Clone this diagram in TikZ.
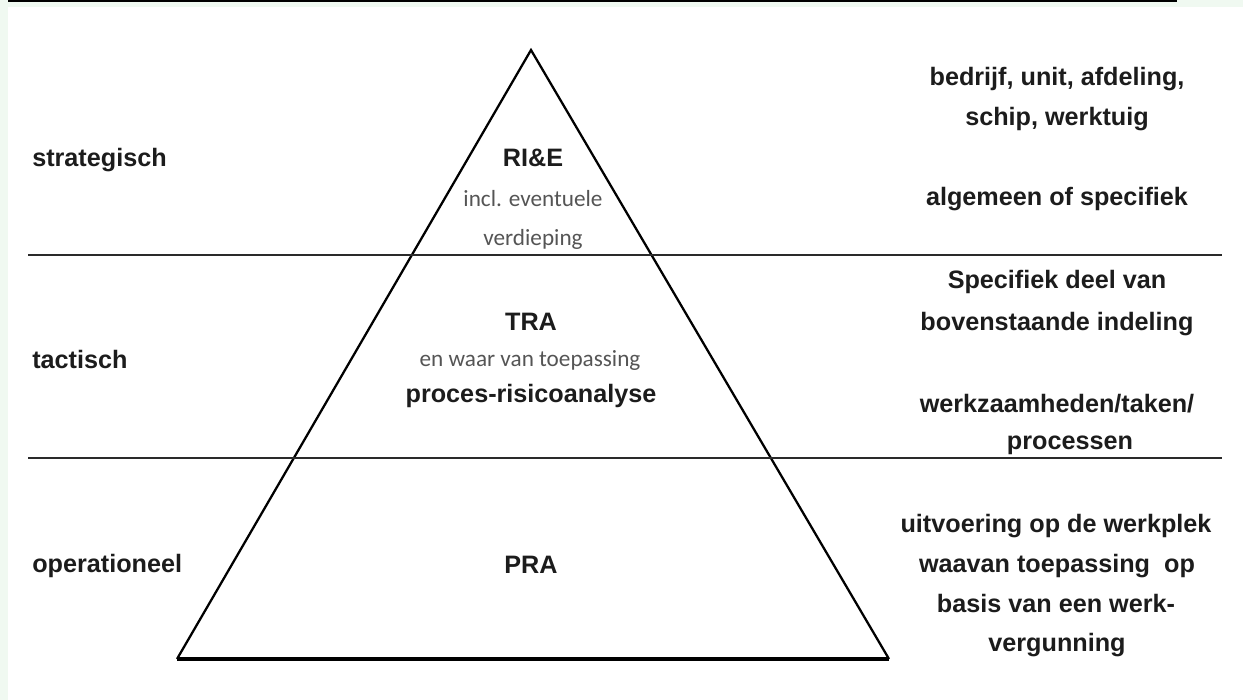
\documentclass[tikz,border=0pt]{standalone}
\usepackage{fontspec}
\setmainfont{Liberation Sans}
\newfontfamily\calfont{Carlito}
\definecolor{bggreen}{HTML}{F0F9F1}
\definecolor{ink}{HTML}{1C1C1C}
\definecolor{subink}{HTML}{555555}
\definecolor{lineink}{HTML}{2A2A2A}
\begin{document}
\begin{tikzpicture}[x=0.75pt,y=-0.75pt,
  lbl/.style={font=\bfseries\fontsize{18.9}{22}\selectfont, text=ink, inner sep=0pt, anchor=base},
  sub/.style={font=\calfont\fontsize{17.4}{20}\selectfont, text=subink, inner sep=0pt, anchor=base},
  tri/.style={draw=black, line width=1.7pt, line join=miter},
  sepline/.style={draw=lineink, line width=2.1pt},
  baseline/.style={draw=black, line width=3pt}]
\useasboundingbox (0,0) rectangle (1243,700);
% background
\fill[bggreen] (0,0) rectangle (1243,700);
\fill[white] (8,7) rectangle (1243,700);
\draw[black, line width=1.6pt] (8,1) -- (1177,1);
% triangle
\coordinate (apex) at (531,50);
\coordinate (bl) at (177,659);
\coordinate (br) at (889,659);
\draw[tri] (bl) -- (apex) -- (br);
\draw[baseline] (bl) -- (br);
% separators
\coordinate (s1l) at (28,255);
\coordinate (s1r) at (1222,255);
\coordinate (s2l) at (28,458);
\coordinate (s2r) at (1222,458);
\draw[sepline] (s1l) -- (s1r);
\draw[sepline] (s2l) -- (s2r);
% left labels
\node[lbl, anchor=base west] (strat) at (32,166) {strategisch};
\node[lbl, anchor=base west] (tact) at (32,368) {tactisch};
\node[lbl, anchor=base west] (oper) at (32,572) {operationeel};
% centre labels
\node[lbl] (rie) at (533,166) {RI\&E};
\node[sub] (incl) at (533,206) {incl. eventuele};
\node[sub] (verd) at (533,245) {verdieping};
\node[lbl] (tra) at (531,330) {TRA};
\node[sub] (enwaar) at (530,366) {en waar van toepassing};
\node[lbl] (proc) at (531,402) {proces-risicoanalyse};
\node[lbl] (pra) at (531,573) {PRA};
% right labels
\node[lbl] (r1) at (1057,85) {bedrijf, unit, afdeling,};
\node[lbl] (r2) at (1057,125) {schip, werktuig};
\node[lbl] (r3) at (1057,205) {algemeen of specifiek};
\node[lbl] (r4) at (1057,288) {Specifiek deel van};
\node[lbl] (r5) at (1057,330) {bovenstaande indeling};
\node[lbl] (r6) at (1057,412) {werkzaamheden/taken/};
\node[lbl] (r7) at (1070,449) {processen};
\node[lbl] (r8) at (1056,532) {uitvoering op de werkplek};
\node[lbl] (r9) at (1057,572) {waavan toepassing\ \ op};
\node[lbl] (r10) at (1056,612) {basis van een werk-};
\node[lbl] (r11) at (1057,651) {vergunning};
\end{tikzpicture}
\end{document}
